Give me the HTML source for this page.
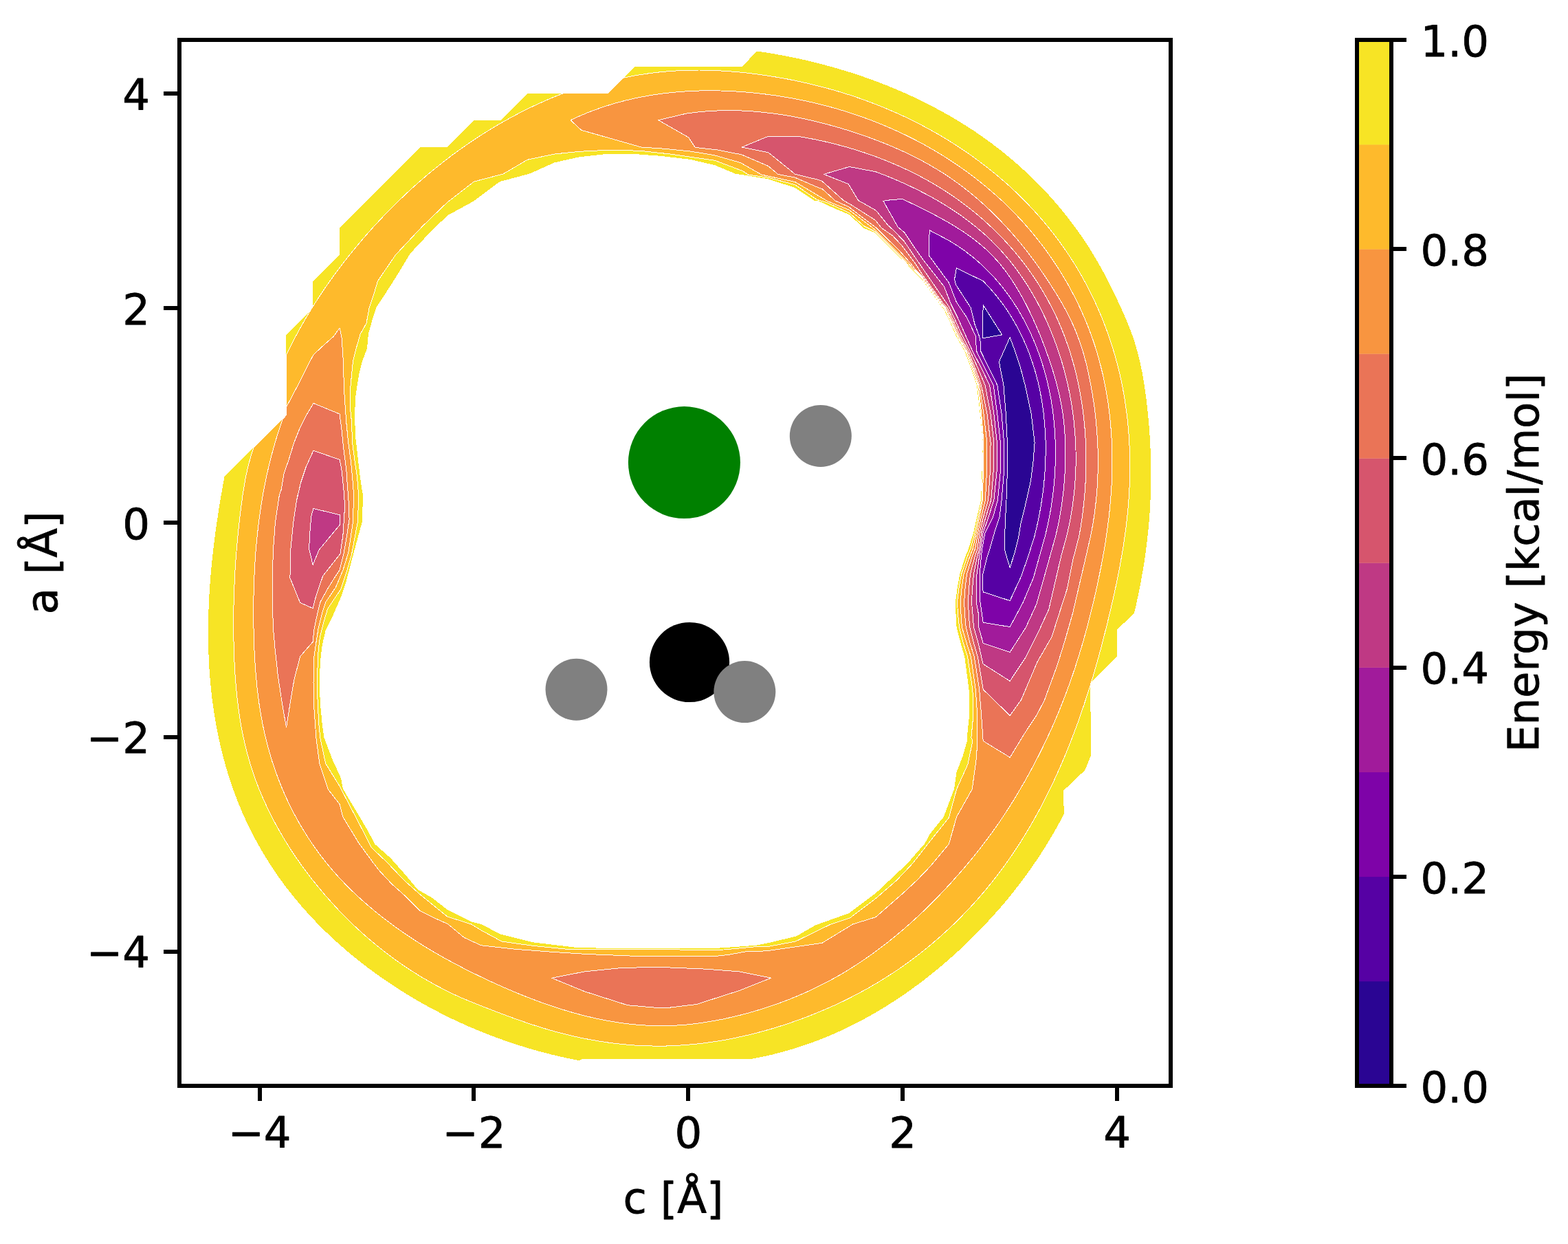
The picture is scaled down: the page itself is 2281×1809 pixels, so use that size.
<!DOCTYPE html>
<html lang="en">
<head>
<meta charset="utf-8">
<title>Energy contour plot</title>
<style>
html,body{margin:0;padding:0;background:#fff;}
body{width:2281px;height:1809px;overflow:hidden;}
svg{display:block;}
text{font-family:"DejaVu Sans","Liberation Sans",sans-serif;font-size:62.5px;fill:#000;stroke:#000;stroke-width:0.8px;stroke-linejoin:round;}
</style>
</head>
<body>
<svg xmlns="http://www.w3.org/2000/svg" width="2281" height="1809" viewBox="0 0 2281 1809">
<rect x="0" y="0" width="2281" height="1809" fill="#ffffff"/>
<g id="contours" fill-rule="evenodd" stroke="#ffffff" stroke-width="1" stroke-linejoin="round" shape-rendering="crispEdges">
<path d="M326.5,693.2 L416.4,603.7 L416.4,486.8 L455.4,447.8 L455.4,408.8 L494.4,369.8 L494.4,330.8 L611.4,213.8 L650.4,213.8 L689.4,174.9 L728.4,174.9 L767.4,135.9 L884.3,135.9 L923.3,96.9 L1079.3,96.9 L1101.3,74.5 L1115.2,76.6 L1129.0,78.9 L1142.8,81.5 L1156.6,84.2 L1170.4,87.2 L1184.2,90.5 L1197.9,94.0 L1211.5,97.7 L1225.1,101.7 L1238.7,105.8 L1252.2,110.3 L1265.5,115.0 L1278.8,119.9 L1292.1,125.1 L1305.2,130.5 L1318.2,136.2 L1331.0,142.1 L1343.8,148.3 L1356.4,154.7 L1368.9,161.4 L1381.2,168.3 L1393.4,175.5 L1405.4,182.9 L1417.2,190.6 L1428.8,198.6 L1440.3,206.8 L1451.5,215.3 L1462.6,224.1 L1473.4,233.1 L1484.0,242.4 L1494.4,251.9 L1504.6,261.7 L1514.5,271.7 L1524.2,282.0 L1533.6,292.5 L1542.7,303.2 L1551.6,314.2 L1560.2,325.4 L1568.6,336.8 L1576.6,348.4 L1584.4,360.3 L1591.8,372.3 L1599.0,384.6 L1605.8,397.0 L1612.4,409.6 L1618.8,422.2 L1624.9,435.0 L1630.8,447.8 L1636.5,460.6 L1641.9,473.5 L1646.9,486.6 L1651.3,499.8 L1655.1,513.3 L1658.5,527.0 L1661.4,540.9 L1663.9,554.8 L1666.0,568.8 L1667.9,582.9 L1669.4,597.0 L1670.8,611.1 L1672.0,625.2 L1672.9,639.2 L1673.6,653.3 L1674.1,667.4 L1674.4,681.4 L1674.4,695.5 L1674.2,709.6 L1673.7,723.7 L1673.0,737.8 L1672.1,751.9 L1670.9,766.1 L1669.4,780.1 L1667.8,794.2 L1665.9,808.3 L1663.8,822.3 L1661.4,836.2 L1658.9,850.1 L1656.1,863.9 L1653.2,877.7 L1650.0,891.4 L1625.1,915.7 L1625.1,954.7 L1586.2,993.6 L1587.0,1098.9 L1578.2,1120.1 L1547.2,1149.6 L1547.7,1184.0 L1541.0,1196.6 L1534.1,1209.0 L1526.9,1221.2 L1519.5,1233.3 L1511.8,1245.2 L1503.9,1256.9 L1495.8,1268.5 L1487.4,1279.9 L1478.8,1291.1 L1470.1,1302.2 L1461.1,1313.1 L1451.8,1323.8 L1442.4,1334.3 L1432.8,1344.7 L1423.0,1354.9 L1413.0,1364.9 L1402.8,1374.8 L1392.4,1384.5 L1381.9,1393.9 L1371.1,1403.2 L1360.2,1412.3 L1349.2,1421.2 L1337.9,1429.8 L1326.5,1438.2 L1314.9,1446.4 L1303.1,1454.3 L1291.2,1461.9 L1279.1,1469.3 L1266.9,1476.4 L1254.5,1483.2 L1242.0,1489.7 L1229.3,1496.0 L1216.5,1501.8 L1203.5,1507.4 L1190.4,1512.6 L1177.1,1517.5 L1163.7,1522.1 L1150.2,1526.3 L1136.6,1530.2 L1122.8,1533.7 L1108.9,1536.8 L1095.0,1539.6 L846.5,1539.9 L843.3,1542.4 L829.5,1539.6 L815.7,1536.6 L802.0,1533.4 L788.3,1529.9 L774.7,1526.1 L761.2,1522.0 L747.7,1517.8 L734.3,1513.2 L721.0,1508.4 L707.8,1503.4 L694.7,1498.1 L681.7,1492.6 L668.8,1486.8 L656.0,1480.8 L643.3,1474.5 L630.8,1468.0 L618.3,1461.3 L606.1,1454.3 L593.9,1447.1 L581.9,1439.6 L570.1,1431.9 L558.4,1424.0 L546.8,1415.9 L535.5,1407.5 L524.3,1398.9 L513.3,1390.1 L502.5,1381.0 L491.9,1371.7 L481.5,1362.2 L471.3,1352.5 L461.4,1342.5 L451.7,1332.3 L442.2,1321.8 L433.0,1311.1 L424.1,1300.2 L415.4,1289.1 L407.0,1277.7 L399.0,1266.0 L391.2,1254.2 L383.7,1242.1 L376.6,1229.8 L369.8,1217.4 L363.3,1204.8 L357.2,1192.0 L351.4,1179.1 L346.1,1166.1 L341.0,1152.9 L336.3,1139.6 L332.0,1126.3 L328.0,1112.8 L324.3,1099.2 L320.9,1085.6 L317.9,1071.8 L315.1,1058.0 L312.7,1044.2 L310.5,1030.2 L308.6,1016.3 L307.0,1002.2 L305.7,988.2 L304.6,974.1 L303.8,960.0 L303.3,945.8 L302.9,931.7 L302.9,917.6 L303.0,903.4 L303.4,889.3 L303.9,875.2 L304.7,861.0 L305.7,846.9 L306.8,832.8 L308.1,818.7 L309.6,804.7 L311.3,790.6 L313.0,776.6 L315.0,762.6 L317.1,748.6 L319.2,734.7 L321.6,720.8 L324.0,707.0Z M526.8,759.0 L528.1,720.0 L527.1,715.6 L523.2,688.3 L520.3,663.0 L517.4,637.7 L515.8,604.5 L517.4,575.3 L519.4,561.7 L522.3,544.2 L527.1,524.7 L534.0,507.1 L535.9,485.7 L541.8,464.3 L547.6,446.8 L566.1,418.5 L577.8,400.0 L596.8,368.6 L623.1,340.5 L650.7,313.5 L688.3,292.9 L727.1,264.1 L770.9,252.4 L806.0,236.6 L820.0,233.3 L842.6,228.3 L880.2,224.1 L917.8,223.6 L961.8,226.9 L1003.5,231.8 L1039.7,240.1 L1069.7,252.6 L1117.7,260.3 L1156.7,273.2 L1184.5,291.6 L1190.0,291.9 L1215.1,303.6 L1235.2,311.9 L1256.9,332.0 L1273.6,338.7 L1290.4,355.4 L1307.1,372.2 L1318.0,382.9 L1332.3,397.6 L1342.0,407.3 L1371.2,447.7 L1373.4,450.1 L1382.3,469.0 L1391.2,489.1 L1403.4,511.0 L1412.5,535.0 L1420.9,560.0 L1425.8,602.0 L1429.9,643.5 L1428.5,685.0 L1427.1,727.0 L1421.2,752.0 L1416.0,775.0 L1409.0,798.0 L1404.0,810.0 L1396.3,835.0 L1392.5,856.0 L1390.0,875.5 L1390.5,893.0 L1391.6,912.0 L1397.4,935.0 L1403.2,955.0 L1409.5,1002.5 L1410.1,1040.0 L1406.7,1072.6 L1406.8,1077.5 L1400.4,1100.1 L1391.6,1122.7 L1387.9,1147.7 L1372.9,1187.8 L1352.8,1212.8 L1345.3,1226.6 L1320.3,1255.4 L1274.0,1298.8 L1235.0,1328.0 L1186.3,1345.4 L1158.5,1361.4 L1120.9,1370.5 L1100.0,1374.7 L1074.8,1376.6 L1040.0,1379.0 L1000.6,1379.3 L900.4,1379.3 L837.8,1377.8 L775.1,1370.3 L727.6,1358.3 L700.0,1344.0 L685.8,1340.4 L650.7,1322.8 L628.1,1305.3 L608.1,1294.0 L588.1,1270.2 L568.0,1247.7 L545.5,1227.7 L534.2,1206.4 L498.9,1147.1 L496.0,1131.6 L484.3,1106.2 L471.6,1073.1 L468.7,1052.9 L465.8,1022.0 L464.8,992.7 L465.8,963.5 L468.7,938.2 L473.6,916.8 L484.3,895.3 L496.0,868.1 L503.8,844.7 L513.5,807.7Z" fill="#f7e425" stroke="none"/>
<path d="M416.1,516.9 L422.3,504.2 L428.8,491.6 L435.5,479.2 L442.5,466.9 L449.7,454.7 L457.1,442.7 L464.8,430.8 L472.7,419.1 L480.8,407.4 L489.1,396.0 L497.6,384.6 L506.4,373.4 L515.3,362.4 L524.4,351.5 L533.7,340.7 L543.2,330.1 L552.8,319.7 L562.6,309.4 L572.6,299.3 L582.8,289.4 L593.1,279.6 L603.6,270.0 L614.3,260.6 L625.1,251.4 L636.1,242.5 L647.2,233.7 L658.5,225.1 L670.0,216.8 L681.6,208.7 L693.3,200.8 L705.3,193.1 L717.3,185.7 L729.5,178.6 L741.9,171.7 L754.3,165.0 L767.0,158.6 L779.7,152.5 L792.6,146.7 L805.7,141.1 L818.8,135.9 L883.9,135.9 L906.5,113.3 L920.3,110.5 L934.2,108.2 L948.1,106.2 L962.1,104.6 L976.0,103.4 L989.9,102.6 L1003.9,102.1 L1017.8,102.0 L1031.8,102.3 L1045.7,102.8 L1059.7,103.7 L1073.6,104.8 L1087.5,106.2 L1101.4,107.9 L1115.2,109.9 L1129.1,112.1 L1142.9,114.5 L1156.6,117.2 L1170.3,120.2 L1183.9,123.4 L1197.5,126.8 L1211.0,130.5 L1224.5,134.5 L1237.8,138.7 L1251.1,143.2 L1264.3,148.0 L1277.4,153.0 L1290.3,158.3 L1303.2,163.9 L1316.0,169.7 L1328.6,175.8 L1341.1,182.2 L1353.4,188.8 L1365.6,195.7 L1377.7,202.9 L1389.5,210.4 L1401.3,218.1 L1412.8,226.0 L1424.1,234.3 L1435.2,242.8 L1446.2,251.5 L1456.9,260.5 L1467.4,269.7 L1477.6,279.2 L1487.6,289.0 L1497.3,299.0 L1506.8,309.2 L1516.1,319.7 L1525.0,330.4 L1533.7,341.3 L1542.0,352.5 L1550.1,363.9 L1557.8,375.5 L1565.3,387.4 L1572.4,399.4 L1579.2,411.7 L1585.6,424.1 L1591.8,436.7 L1597.6,449.5 L1603.1,462.4 L1608.2,475.5 L1613.0,488.7 L1617.4,502.0 L1621.5,515.4 L1625.2,529.0 L1628.6,542.6 L1631.7,556.3 L1634.3,570.0 L1636.6,583.8 L1638.6,597.7 L1640.3,611.6 L1641.6,625.5 L1642.6,639.5 L1643.3,653.5 L1643.7,667.5 L1643.8,681.5 L1643.5,695.5 L1643.0,709.4 L1642.2,723.3 L1641.2,737.2 L1639.8,751.1 L1638.3,764.9 L1636.4,778.7 L1634.4,792.5 L1632.1,806.3 L1629.7,820.0 L1627.1,833.7 L1624.3,847.4 L1621.4,861.1 L1618.3,874.7 L1615.2,888.4 L1611.9,902.0 L1608.5,915.7 L1605.0,929.3 L1601.5,942.9 L1597.8,956.5 L1593.9,970.0 L1590.0,983.6 L1585.9,997.0 L1581.6,1010.5 L1577.3,1023.8 L1572.7,1037.1 L1568.1,1050.4 L1563.2,1063.6 L1558.2,1076.7 L1553.1,1089.7 L1547.7,1102.6 L1542.2,1115.5 L1536.5,1128.2 L1530.6,1140.9 L1524.5,1153.4 L1518.2,1165.9 L1511.7,1178.2 L1504.9,1190.4 L1498.0,1202.5 L1490.8,1214.4 L1483.5,1226.2 L1475.8,1237.8 L1468.0,1249.3 L1459.9,1260.7 L1451.5,1271.9 L1442.9,1282.9 L1434.1,1293.7 L1425.0,1304.4 L1415.6,1314.9 L1406.0,1325.2 L1396.2,1335.2 L1386.2,1345.1 L1375.9,1354.7 L1365.4,1364.1 L1354.7,1373.3 L1343.8,1382.2 L1332.8,1390.9 L1321.5,1399.2 L1310.1,1407.4 L1298.5,1415.2 L1286.7,1422.7 L1274.8,1430.0 L1262.7,1437.0 L1250.5,1443.7 L1238.1,1450.2 L1225.6,1456.4 L1213.0,1462.3 L1200.2,1467.9 L1187.3,1473.3 L1174.3,1478.5 L1161.2,1483.3 L1148.0,1488.0 L1134.7,1492.3 L1121.2,1496.4 L1107.7,1500.2 L1094.2,1503.7 L1080.5,1506.9 L1066.8,1509.9 L1053.0,1512.5 L1039.2,1514.7 L1025.3,1516.7 L1011.4,1518.3 L997.5,1519.5 L983.5,1520.4 L969.5,1521.0 L955.5,1521.1 L941.6,1520.9 L927.6,1520.3 L913.6,1519.3 L899.7,1517.9 L885.8,1516.2 L871.9,1514.1 L858.1,1511.7 L844.3,1509.0 L830.7,1506.0 L817.1,1502.6 L803.6,1499.0 L790.1,1495.0 L776.8,1490.8 L763.6,1486.4 L750.4,1481.8 L737.3,1477.0 L724.2,1472.1 L711.1,1467.0 L698.1,1462.0 L685.1,1456.8 L672.2,1451.4 L659.5,1445.6 L647.0,1439.4 L634.6,1433.0 L622.4,1426.2 L610.4,1419.1 L598.6,1411.7 L587.0,1404.0 L575.6,1396.0 L564.3,1387.7 L553.3,1379.1 L542.5,1370.3 L531.8,1361.2 L521.4,1351.8 L511.2,1342.2 L501.3,1332.3 L491.5,1322.2 L482.0,1311.9 L472.7,1301.4 L463.6,1290.6 L454.8,1279.7 L446.2,1268.5 L437.9,1257.2 L429.8,1245.6 L422.0,1233.9 L414.6,1222.0 L407.4,1209.9 L400.6,1197.7 L394.1,1185.3 L388.0,1172.7 L382.2,1160.0 L376.8,1147.1 L371.8,1134.1 L367.2,1121.0 L363.1,1107.7 L359.3,1094.3 L356.0,1080.7 L353.0,1067.1 L350.4,1053.4 L348.2,1039.5 L346.3,1025.7 L344.6,1011.7 L343.3,997.7 L342.2,983.7 L341.3,969.7 L340.7,955.6 L340.2,941.6 L339.9,927.5 L339.8,913.5 L339.8,899.5 L339.9,885.5 L340.2,871.6 L340.7,857.6 L341.3,843.6 L342.0,829.7 L342.9,815.8 L344.0,801.8 L345.2,787.9 L346.5,774.0 L348.0,760.1 L349.6,746.2 L351.4,732.3 L353.3,718.4 L355.5,704.5 L358.1,690.7 L361.2,677.1 L364.9,663.6 L369.4,650.3 L416.4,603.7Z M520.3,759.0 L521.9,720.0 L521.3,715.6 L519.4,692.2 L516.4,672.7 L512.5,643.5 L511.6,614.3 L509.6,594.8 L509.6,565.6 L511.6,544.2 L513.5,524.7 L517.4,509.1 L524.2,485.7 L533.0,470.1 L536.9,448.7 L542.7,431.2 L549.5,408.8 L555.4,400.0 L575.5,370.6 L614.4,329.2 L650.7,294.2 L689.5,264.1 L732.1,252.9 L767.2,232.3 L806.0,224.1 L842.6,220.3 L882.7,218.3 L917.8,218.8 L936.7,219.9 L975.7,224.1 L1039.7,233.2 L1080.1,248.5 L1088.4,254.0 L1117.7,258.2 L1156.7,268.7 L1188.7,290.5 L1202.5,294.4 L1235.2,309.4 L1256.9,328.7 L1273.6,337.0 L1307.1,370.5 L1319.2,382.9 L1332.3,396.2 L1342.0,405.9 L1371.2,446.3 L1374.2,449.3 L1383.2,468.2 L1392.1,488.3 L1404.6,511.0 L1413.7,535.0 L1422.2,560.0 L1426.7,602.0 L1430.4,643.5 L1429.3,685.0 L1428.3,727.0 L1423.0,752.0 L1418.0,775.0 L1412.0,798.0 L1407.0,810.0 L1398.5,835.0 L1394.8,856.0 L1392.5,875.5 L1393.5,893.0 L1395.5,912.0 L1401.3,935.0 L1407.5,955.0 L1414.9,1002.5 L1415.9,1040.0 L1412.9,1072.6 L1414.9,1077.5 L1407.9,1111.4 L1391.6,1147.7 L1380.4,1189.0 L1355.3,1220.3 L1327.8,1255.4 L1304.6,1280.0 L1274.0,1306.5 L1236.4,1335.0 L1207.2,1344.7 L1157.1,1369.1 L1119.5,1376.1 L1099.9,1376.6 L1074.8,1379.0 L1047.0,1381.5 L965.5,1380.8 L900.4,1380.8 L825.2,1380.3 L775.1,1375.3 L730.1,1369.1 L700.0,1352.8 L685.8,1344.1 L650.7,1332.9 L610.6,1300.3 L588.1,1280.3 L563.0,1254.0 L540.5,1232.7 L534.2,1220.1 L494.0,1143.2 L473.6,1110.1 L465.8,1073.1 L463.8,1052.9 L462.9,1035.6 L461.3,1002.5 L461.9,973.2 L463.2,944.0 L465.8,924.5 L470.7,905.1 L476.5,885.6 L484.3,873.9 L496.0,856.4 L503.8,833.0 L511.6,805.7Z" fill="#feba2c"/>
<path d="M830.1,174.7 L843.0,168.8 L856.1,163.3 L869.3,158.4 L882.6,153.9 L896.1,149.8 L909.6,146.2 L923.2,143.0 L936.9,140.3 L950.7,137.9 L964.5,135.9 L978.4,134.4 L992.3,133.2 L1006.3,132.4 L1020.3,131.9 L1034.3,131.8 L1048.4,132.0 L1062.4,132.5 L1076.4,133.3 L1090.4,134.4 L1104.4,135.9 L1118.4,137.6 L1132.3,139.5 L1146.2,141.8 L1160.0,144.4 L1173.8,147.2 L1187.5,150.3 L1201.1,153.7 L1214.6,157.4 L1228.1,161.4 L1241.5,165.7 L1254.7,170.2 L1267.9,175.1 L1280.9,180.2 L1293.9,185.7 L1306.7,191.4 L1319.4,197.4 L1331.9,203.7 L1344.2,210.3 L1356.4,217.2 L1368.5,224.4 L1380.3,231.8 L1392.0,239.6 L1403.5,247.6 L1414.7,255.9 L1425.8,264.5 L1436.6,273.4 L1447.2,282.5 L1457.6,291.9 L1467.7,301.6 L1477.5,311.6 L1487.1,321.8 L1496.4,332.3 L1505.4,343.1 L1514.1,354.1 L1522.6,365.4 L1530.7,376.9 L1538.5,388.6 L1545.9,400.6 L1553.1,412.7 L1559.8,425.1 L1566.3,437.6 L1572.3,450.3 L1578.0,463.2 L1583.3,476.2 L1588.2,489.3 L1592.7,502.5 L1596.8,515.9 L1600.5,529.4 L1603.9,543.0 L1606.8,556.6 L1609.4,570.4 L1611.7,584.2 L1613.6,598.1 L1615.1,612.0 L1616.3,625.9 L1617.2,639.9 L1617.7,653.9 L1618.0,668.0 L1617.9,682.0 L1617.5,696.1 L1616.8,710.1 L1615.8,724.1 L1614.6,738.1 L1613.1,752.0 L1611.3,766.0 L1609.4,779.9 L1607.2,793.8 L1604.8,807.6 L1602.2,821.5 L1599.5,835.2 L1596.6,849.0 L1593.6,862.7 L1590.4,876.4 L1587.1,890.0 L1583.7,903.6 L1580.1,917.1 L1576.3,930.6 L1572.4,944.0 L1568.2,957.4 L1564.0,970.7 L1559.5,984.0 L1554.8,997.2 L1550.0,1010.3 L1544.9,1023.3 L1539.7,1036.3 L1534.2,1049.2 L1528.5,1062.1 L1522.6,1074.8 L1516.5,1087.5 L1510.2,1100.1 L1503.7,1112.6 L1497.0,1125.0 L1490.1,1137.3 L1483.0,1149.4 L1475.8,1161.5 L1468.4,1173.4 L1460.8,1185.1 L1453.0,1196.7 L1445.0,1208.1 L1436.8,1219.3 L1428.4,1230.4 L1419.7,1241.4 L1410.9,1252.2 L1401.9,1262.9 L1392.7,1273.4 L1383.4,1283.9 L1373.8,1294.2 L1364.1,1304.4 L1354.2,1314.4 L1344.1,1324.3 L1333.8,1334.0 L1323.4,1343.4 L1312.8,1352.7 L1302.0,1361.7 L1291.0,1370.6 L1279.9,1379.1 L1268.6,1387.4 L1257.1,1395.5 L1245.4,1403.2 L1233.6,1410.7 L1221.6,1417.9 L1209.4,1424.7 L1197.0,1431.2 L1184.5,1437.4 L1171.8,1443.3 L1159.0,1448.8 L1146.0,1454.1 L1132.9,1459.0 L1119.6,1463.6 L1106.3,1467.9 L1092.8,1471.9 L1079.2,1475.6 L1065.5,1478.9 L1051.7,1482.0 L1037.8,1484.6 L1023.9,1486.9 L1009.9,1488.8 L995.9,1490.3 L981.9,1491.2 L967.9,1491.7 L953.9,1491.6 L940.0,1491.1 L926.1,1490.1 L912.2,1488.7 L898.4,1486.8 L884.6,1484.5 L870.9,1481.8 L857.2,1478.7 L843.6,1475.3 L830.0,1471.6 L816.6,1467.5 L803.2,1463.2 L789.8,1458.6 L776.6,1453.7 L763.4,1448.6 L750.4,1443.3 L737.4,1437.8 L724.6,1432.1 L711.8,1426.3 L699.2,1420.3 L686.7,1414.2 L674.3,1408.0 L662.0,1401.5 L649.7,1394.9 L637.6,1388.1 L625.6,1381.1 L613.6,1373.8 L601.7,1366.2 L590.0,1358.4 L578.4,1350.3 L567.0,1342.0 L555.7,1333.4 L544.7,1324.5 L533.9,1315.4 L523.3,1306.0 L513.0,1296.3 L503.0,1286.4 L493.3,1276.2 L484.0,1265.7 L474.9,1254.9 L466.3,1243.9 L458.0,1232.5 L450.1,1221.0 L442.6,1209.1 L435.4,1197.1 L428.6,1184.8 L422.2,1172.3 L416.2,1159.7 L410.6,1146.9 L405.4,1133.9 L400.5,1120.7 L396.0,1107.4 L392.0,1094.0 L388.3,1080.5 L385.0,1066.9 L382.1,1053.2 L379.5,1039.5 L377.3,1025.6 L375.4,1011.7 L373.8,997.8 L372.5,983.8 L371.4,969.8 L370.5,955.7 L369.8,941.7 L369.4,927.6 L369.0,913.5 L368.9,899.4 L368.8,885.4 L368.9,871.3 L369.2,857.2 L369.7,843.2 L370.3,829.2 L371.1,815.2 L372.1,801.2 L373.3,787.3 L374.8,773.3 L376.4,759.4 L378.3,745.6 L380.4,731.8 L382.7,718.0 L385.3,704.2 L388.2,690.5 L391.3,676.9 L394.7,663.3 L398.4,649.7 L402.4,636.2 L406.7,622.8 L411.2,609.4 L416.4,603.7 L416.1,592.9 L435.6,555.8 L449.2,528.6 L456.0,515.9 L471.6,501.3 L485.3,489.2 L494.0,476.9 L496.9,489.6 L498.9,516.9 L500.8,571.4 L503.8,614.3 L506.7,643.5 L510.6,672.7 L513.5,703.9 L514.5,720.0 L513.5,759.0 L506.7,803.8 L498.9,829.1 L488.2,854.4 L473.6,875.8 L468.7,891.4 L462.9,914.8 L459.9,934.3 L457.0,953.8 L456.0,992.7 L457.0,1031.7 L459.9,1073.1 L464.8,1110.1 L477.5,1148.1 L494.0,1169.5 L498.9,1188.1 L509.6,1205.6 L521.3,1225.1 L542.7,1254.3 L552.5,1266.9 L570.0,1285.5 L589.5,1303.0 L610.9,1324.4 L630.4,1334.2 L651.8,1343.9 L675.2,1363.4 L700.0,1374.8 L750.1,1380.3 L800.2,1384.1 L850.3,1387.3 L925.4,1390.4 L965.5,1390.9 L1040.0,1390.5 L1059.5,1388.4 L1085.9,1383.6 L1100.0,1383.7 L1119.5,1382.3 L1196.1,1371.2 L1240.6,1344.0 L1274.0,1333.6 L1313.0,1299.5 L1333.9,1280.0 L1352.8,1260.4 L1380.4,1227.3 L1391.6,1187.8 L1414.2,1147.7 L1420.4,1102.6 L1421.8,1077.5 L1421.8,1040.0 L1419.2,1002.5 L1412.4,955.0 L1406.2,935.0 L1399.4,912.0 L1398.0,893.0 L1397.1,875.5 L1399.0,856.0 L1402.0,835.0 L1410.5,810.0 L1415.2,798.0 L1420.2,775.0 L1424.8,752.0 L1429.6,727.0 L1430.3,685.0 L1431.0,643.5 L1427.7,602.0 L1423.5,560.0 L1415.0,535.0 L1405.8,511.0 L1393.0,487.5 L1384.0,467.5 L1375.1,448.5 L1371.2,444.9 L1342.0,404.5 L1332.3,394.8 L1321.7,382.9 L1307.1,368.0 L1273.6,334.5 L1248.5,315.3 L1235.2,305.2 L1204.2,292.7 L1156.7,264.5 L1107.9,254.0 L1077.3,236.6 L1038.3,225.5 L1003.5,219.9 L965.9,216.2 L932.8,214.0 L845.6,189.2Z" fill="#f89540"/>
<path d="M957.8,174.7 L997.9,165.2 L1012.0,163.3 L1026.0,162.0 L1040.1,161.1 L1054.1,160.7 L1068.2,160.7 L1082.2,161.1 L1096.2,162.0 L1110.2,163.3 L1124.1,164.9 L1138.0,166.9 L1151.9,169.2 L1165.7,171.9 L1179.5,174.9 L1193.2,178.2 L1206.8,181.8 L1220.4,185.6 L1233.9,189.7 L1247.4,194.1 L1260.7,198.6 L1273.9,203.5 L1287.1,208.6 L1300.0,214.0 L1312.9,219.7 L1325.6,225.7 L1338.0,232.0 L1350.3,238.7 L1362.4,245.8 L1374.3,253.2 L1385.9,261.1 L1397.3,269.3 L1408.4,277.9 L1419.3,286.9 L1429.9,296.2 L1440.2,305.8 L1450.3,315.7 L1460.1,325.9 L1469.6,336.3 L1478.9,347.0 L1487.9,357.8 L1496.6,368.9 L1505.0,380.1 L1513.2,391.6 L1521.1,403.1 L1528.8,414.9 L1536.3,426.8 L1543.6,438.8 L1550.5,451.1 L1556.9,463.6 L1562.7,476.3 L1567.9,489.3 L1572.6,502.4 L1576.7,515.8 L1580.3,529.3 L1583.4,542.9 L1586.2,556.6 L1588.7,570.4 L1590.9,584.3 L1592.8,598.2 L1594.3,612.1 L1595.6,626.1 L1596.5,640.1 L1597.1,654.1 L1597.3,668.1 L1597.2,682.2 L1596.8,696.2 L1596.0,710.2 L1594.8,724.2 L1593.3,738.2 L1591.4,752.2 L1589.1,766.1 L1586.4,780.0 L1580.1,807.8 L1570.3,849.6 L1560.6,891.4 L1549.5,930.3 L1538.3,966.5 L1519.5,1017.9 L1508.1,1040.0 L1490.6,1066.3 L1469.2,1101.4 L1430.2,1077.5 L1427.6,1040.0 L1424.7,1002.5 L1417.3,955.0 L1411.0,935.0 L1405.2,912.0 L1403.5,893.0 L1402.6,875.5 L1404.0,856.0 L1406.5,835.0 L1414.0,810.0 L1418.6,798.0 L1422.6,775.0 L1427.5,752.0 L1433.4,727.0 L1435.5,685.0 L1435.9,643.5 L1431.0,602.0 L1425.0,560.0 L1416.5,535.0 L1407.2,511.0 L1394.1,486.6 L1385.2,466.6 L1376.3,447.6 L1371.2,442.8 L1342.0,402.4 L1332.3,392.7 L1324.7,382.9 L1307.1,363.0 L1282.0,338.7 L1273.6,330.3 L1253.6,315.3 L1235.2,301.1 L1215.1,291.9 L1196.7,275.1 L1190.0,272.6 L1156.7,258.2 L1131.6,253.3 L1117.7,241.5 L1078.7,224.8 L1042.5,217.8 L1011.2,214.4 L1001.7,199.8Z M456.0,586.4 L445.3,604.5 L435.6,624.0 L427.8,643.5 L420.0,668.8 L413.2,688.3 L409.3,711.7 L406.4,720.0 L400.5,759.0 L397.6,797.9 L396.2,836.9 L396.2,875.8 L397.6,914.8 L400.1,944.0 L404.4,983.0 L410.3,1022.0 L416.5,1057.9 L421.9,1023.9 L427.8,988.8 L436.6,954.7 L455.1,933.3 L457.0,914.8 L461.9,891.4 L465.8,875.8 L476.5,856.4 L486.2,840.8 L494.0,829.1 L499.9,805.7 L504.7,778.4 L508.1,755.1 L506.7,720.0 L505.7,711.7 L503.8,682.5 L499.9,653.2 L496.9,624.0 L494.0,602.0Z M802.7,1422.2 L850.3,1412.9 L900.4,1407.9 L937.9,1406.6 L965.5,1406.6 L1025.6,1409.1 L1075.7,1412.9 L1121.5,1422.2 L1075.7,1440.4 L1013.1,1460.5 L975.5,1465.0 L950.5,1465.0 L912.9,1461.7 L850.3,1441.7Z" fill="#ea7457"/>
<path d="M1079.3,214.0 L1116.9,198.5 L1161.3,198.3 L1174.9,200.7 L1188.6,203.4 L1202.3,206.4 L1216.0,209.8 L1229.6,213.4 L1243.1,217.4 L1256.6,221.7 L1269.9,226.3 L1283.2,231.3 L1296.3,236.6 L1309.3,242.2 L1322.2,248.2 L1334.9,254.5 L1347.3,261.2 L1359.6,268.2 L1371.7,275.6 L1383.5,283.3 L1395.1,291.4 L1406.4,299.8 L1417.5,308.6 L1428.3,317.7 L1438.7,327.1 L1448.9,336.8 L1458.8,346.9 L1468.3,357.2 L1477.5,367.8 L1486.3,378.7 L1494.8,389.9 L1502.9,401.4 L1510.6,413.0 L1517.9,425.0 L1524.8,437.2 L1531.3,449.6 L1537.4,462.2 L1543.0,475.0 L1548.2,488.0 L1553.0,501.2 L1557.4,514.6 L1561.4,528.1 L1565.0,541.7 L1568.1,555.5 L1570.9,569.4 L1573.3,583.3 L1575.3,597.4 L1577.0,611.5 L1578.3,625.6 L1579.2,639.8 L1579.8,654.0 L1580.0,668.2 L1579.8,682.3 L1579.4,696.5 L1578.5,710.6 L1577.4,724.6 L1575.9,738.6 L1574.2,752.5 L1572.1,766.3 L1569.7,780.0 L1560.6,814.8 L1552.3,856.6 L1541.1,891.4 L1530.0,926.2 L1509.1,962.4 L1485.4,1017.9 L1469.2,1040.5 L1430.2,1002.6 L1422.3,955.0 L1416.5,935.0 L1410.7,912.0 L1409.3,893.0 L1408.4,875.5 L1409.5,856.0 L1411.5,835.0 L1418.0,810.0 L1422.0,798.0 L1425.0,775.0 L1430.6,752.0 L1437.6,727.0 L1440.4,685.0 L1441.1,643.5 L1436.0,602.0 L1427.5,560.0 L1418.5,535.0 L1409.0,511.0 L1395.6,485.5 L1386.7,465.5 L1377.8,446.5 L1371.2,440.0 L1342.0,399.7 L1331.4,382.9 L1311.3,356.3 L1298.7,342.9 L1282.0,331.2 L1273.6,320.3 L1236.8,296.9 L1227.6,291.9 L1195.9,263.4 L1190.0,261.3 L1156.7,253.3 L1117.7,221.7Z M456.0,655.2 L445.3,678.6 L437.5,702.0 L431.7,727.3 L432.7,720.0 L426.8,759.0 L422.9,797.9 L421.9,840.4 L436.6,876.4 L455.1,884.6 L459.9,866.1 L469.7,837.5 L495.0,805.3 L498.9,778.4 L501.4,739.5 L500.8,720.0 L499.9,711.7 L496.9,682.5 L494.0,668.4Z" fill="#d6556d"/>
<path d="M1198.4,253.4 L1235.7,242.5 L1274.0,249.8 L1287.1,254.8 L1300.1,260.1 L1313.0,265.7 L1325.8,271.6 L1338.5,277.9 L1351.0,284.4 L1363.4,291.3 L1375.5,298.6 L1387.4,306.2 L1399.0,314.1 L1410.3,322.5 L1421.2,331.2 L1431.9,340.3 L1442.1,349.8 L1451.9,359.7 L1461.2,370.1 L1470.2,380.7 L1478.7,391.8 L1486.8,403.2 L1494.5,414.8 L1501.8,426.8 L1508.7,439.0 L1515.2,451.5 L1521.3,464.2 L1526.9,477.0 L1532.2,490.1 L1537.1,503.3 L1541.6,516.6 L1545.8,530.1 L1549.5,543.6 L1552.8,557.3 L1555.8,571.1 L1558.3,584.9 L1560.5,598.8 L1562.2,612.8 L1563.5,626.8 L1564.5,640.8 L1565.0,654.8 L1565.2,668.9 L1564.9,682.9 L1564.2,697.0 L1563.1,710.9 L1561.6,724.9 L1559.7,738.8 L1557.4,752.6 L1554.7,766.3 L1551.6,780.0 L1543.9,807.8 L1534.2,849.6 L1525.8,885.8 L1510.5,919.2 L1492.4,955.4 L1469.2,990.4 L1430.2,965.6 L1427.6,955.0 L1423.1,935.0 L1416.5,912.0 L1415.0,893.0 L1413.5,875.5 L1414.5,856.0 L1416.5,835.0 L1421.5,810.0 L1424.8,798.0 L1427.6,775.0 L1434.0,752.0 L1441.8,727.0 L1445.2,685.0 L1445.9,643.5 L1441.1,602.0 L1433.0,560.0 L1422.5,535.0 L1411.5,511.0 L1397.8,484.0 L1388.9,464.0 L1380.0,445.1 L1337.2,382.9 L1315.5,351.2 L1301.2,336.2 L1292.0,327.8 L1274.5,306.1 L1248.5,291.4 L1234.3,267.6Z M456.0,739.5 L494.6,748.8 L494.6,762.9 L464.2,799.5 L455.1,821.3 L449.6,797.9 L451.2,768.7 L453.1,749.2Z" fill="#bf3984"/>
<path d="M1284.9,292.3 L1296.2,290.6 L1307.1,289.9 L1313.8,289.9 L1340.6,302.7 L1352.9,309.0 L1365.3,315.5 L1377.7,322.4 L1389.8,329.6 L1401.7,337.2 L1413.2,345.2 L1424.2,353.8 L1434.8,362.9 L1444.7,372.7 L1454.0,383.0 L1462.6,393.9 L1470.7,405.3 L1478.2,417.0 L1485.3,429.2 L1492.0,441.6 L1498.3,454.2 L1504.2,466.9 L1509.9,479.8 L1515.2,492.7 L1520.2,505.8 L1524.9,518.9 L1529.4,532.1 L1533.5,545.3 L1537.2,558.6 L1540.5,572.0 L1543.4,585.6 L1545.7,599.2 L1547.6,613.0 L1548.8,626.9 L1549.6,640.9 L1549.9,654.9 L1549.9,669.0 L1549.4,683.0 L1548.5,697.1 L1547.3,711.1 L1545.7,725.0 L1543.7,738.9 L1541.4,752.7 L1538.7,766.4 L1535.5,780.0 L1525.8,814.8 L1516.1,849.6 L1507.7,878.8 L1492.4,912.3 L1469.2,948.4 L1430.2,935.3 L1423.7,912.0 L1423.5,893.0 L1420.1,875.5 L1420.2,856.0 L1421.0,835.0 L1424.5,810.0 L1426.6,798.0 L1430.0,775.0 L1438.0,752.0 L1445.9,727.0 L1450.1,685.0 L1450.4,643.5 L1445.9,602.0 L1439.5,560.0 L1427.5,535.0 L1415.0,511.0 L1402.3,482.4 L1393.4,462.3 L1383.9,443.4 L1373.4,416.7 L1343.1,378.0 L1327.2,355.4 L1315.5,337.9 L1306.3,330.3Z" fill="#a11b9b"/>
<path d="M1352.4,334.9 L1380.0,349.5 L1392.4,357.1 L1404.2,365.3 L1415.5,374.1 L1426.3,383.4 L1436.5,393.2 L1446.3,403.4 L1455.5,414.1 L1464.2,425.2 L1472.3,436.7 L1480.0,448.6 L1487.1,460.8 L1493.8,473.3 L1499.9,486.1 L1505.6,499.1 L1510.7,512.4 L1515.3,525.9 L1519.5,539.6 L1523.1,553.4 L1526.3,567.4 L1529.0,581.4 L1531.2,595.6 L1532.9,609.9 L1534.2,624.2 L1535.0,638.5 L1535.4,652.9 L1535.4,667.3 L1534.9,681.6 L1534.0,695.9 L1532.7,710.2 L1531.0,724.4 L1528.9,738.5 L1526.4,752.5 L1523.5,766.3 L1520.2,780.0 L1510.5,814.8 L1503.5,839.9 L1488.2,876.1 L1469.2,911.6 L1430.2,905.2 L1428.5,893.0 L1426.0,875.5 L1425.2,856.0 L1425.2,835.0 L1427.4,810.0 L1428.6,798.0 L1433.0,775.0 L1444.5,752.0 L1451.5,727.0 L1455.4,685.0 L1455.4,643.5 L1450.8,602.0 L1445.2,560.0 L1432.5,535.0 L1420.7,511.0 L1419.0,487.9 L1406.8,462.3 L1391.2,439.0 L1380.0,410.0 L1379.6,410.1 L1351.0,371.1 L1351.0,357.2Z" fill="#7e03a8"/>
<path d="M1391.4,389.9 L1430.1,408.6 L1440.1,419.2 L1449.4,430.1 L1458.2,441.3 L1466.3,452.9 L1473.7,464.9 L1480.6,477.1 L1486.9,489.6 L1492.7,502.4 L1497.8,515.4 L1502.4,528.6 L1506.5,542.1 L1510.1,555.7 L1513.1,569.4 L1515.6,583.3 L1517.7,597.3 L1519.2,611.4 L1520.3,625.6 L1521.0,639.8 L1521.2,654.0 L1520.9,668.3 L1520.3,682.5 L1519.2,696.7 L1517.8,710.9 L1515.9,724.9 L1513.7,738.9 L1511.1,752.7 L1508.2,766.4 L1504.9,780.0 L1495.2,810.6 L1485.4,838.5 L1469.2,873.5 L1430.2,860.9 L1429.8,856.0 L1429.8,835.0 L1436.0,810.0 L1440.0,798.0 L1446.5,775.0 L1454.0,752.0 L1457.1,727.0 L1460.6,685.0 L1460.6,643.5 L1457.1,602.0 L1450.8,560.0 L1438.5,535.0 L1426.8,511.0 L1426.8,500.2 L1424.6,489.1 L1417.9,471.2 L1412.3,447.9 L1412.3,447.7 L1390.7,414.3 L1388.6,405.9Z" fill="#5601a4"/>
<path d="M1430.1,443.4 L1429.6,491.8 L1457.7,486.8Z M1469.1,490.7 L1476.9,511.3 L1483.6,531.4 L1491.2,560.0 L1500.2,601.8 L1505.1,643.5 L1503.0,671.4 L1499.5,699.2 L1493.3,727.1 L1484.9,761.9 L1481.9,780.0 L1475.7,805.1 L1469.2,825.3 L1464.5,810.0 L1461.2,798.0 L1461.8,775.0 L1462.7,752.0 L1464.0,727.0 L1465.4,685.0 L1465.4,643.5 L1463.3,602.0 L1459.9,560.0 L1455.0,535.0 L1453.5,525.8Z" fill="#2a0593"/>
</g>
<g id="atoms">
<circle cx="995.4" cy="672.6" r="81.5" fill="#008000"/>
<circle cx="1193.8" cy="633.9" r="45.0" fill="#808080"/>
<circle cx="838.5" cy="1002.8" r="45.0" fill="#808080"/>
<circle cx="1003.0" cy="963.0" r="58.1" fill="#000000"/>
<circle cx="1083.3" cy="1006.1" r="45.0" fill="#808080"/>
</g>
<g id="axes" fill="#000" stroke="none" shape-rendering="crispEdges">
<rect x="375" y="1582" width="6" height="19"/>
<rect x="238" y="1381" width="20" height="6"/>
<rect x="686" y="1582" width="6" height="19"/>
<rect x="238" y="1069" width="20" height="6"/>
<rect x="998" y="1582" width="6" height="19"/>
<rect x="238" y="757" width="20" height="6"/>
<rect x="1310" y="1582" width="6" height="19"/>
<rect x="238" y="445" width="20" height="6"/>
<rect x="1622" y="1582" width="6" height="19"/>
<rect x="238" y="133" width="20" height="6"/>
<rect x="258" y="55" width="1448" height="6"/>
<rect x="258" y="1576" width="1448" height="6"/>
<rect x="258" y="55" width="6" height="1527"/>
<rect x="1700" y="55" width="6" height="1527"/>
</g>
<g id="ticklabels">
<text x="377.5" y="1668.8" text-anchor="middle">−4</text>
<text x="218.0" y="1407.3" text-anchor="end">−4</text>
<text x="689.4" y="1668.8" text-anchor="middle">−2</text>
<text x="218.0" y="1095.4" text-anchor="end">−2</text>
<text x="1001.3" y="1668.8" text-anchor="middle">0</text>
<text x="218.0" y="783.5" text-anchor="end">0</text>
<text x="1313.2" y="1668.8" text-anchor="middle">2</text>
<text x="218.0" y="471.6" text-anchor="end">2</text>
<text x="1625.1" y="1668.8" text-anchor="middle">4</text>
<text x="218.0" y="159.7" text-anchor="end">4</text>
</g>
<text id="xlabel" x="979.5" y="1764.0" text-anchor="middle">c [Å]</text>
<text id="ylabel" transform="translate(83.0,818.5) rotate(-90)" text-anchor="middle">a [Å]</text>
<g id="colorbar">
<rect x="1974.0" y="1426.90" width="50.0" height="152.40" fill="#2a0593"/>
<rect x="1974.0" y="1274.80" width="50.0" height="152.40" fill="#5601a4"/>
<rect x="1974.0" y="1122.70" width="50.0" height="152.40" fill="#7e03a8"/>
<rect x="1974.0" y="970.60" width="50.0" height="152.40" fill="#a11b9b"/>
<rect x="1974.0" y="818.50" width="50.0" height="152.40" fill="#bf3984"/>
<rect x="1974.0" y="666.40" width="50.0" height="152.40" fill="#d6556d"/>
<rect x="1974.0" y="514.30" width="50.0" height="152.40" fill="#ea7457"/>
<rect x="1974.0" y="362.20" width="50.0" height="152.40" fill="#f89540"/>
<rect x="1974.0" y="210.10" width="50.0" height="152.40" fill="#feba2c"/>
<rect x="1974.0" y="58.00" width="50.0" height="152.40" fill="#f7e425"/>
<g fill="#000" stroke="none" shape-rendering="crispEdges">
<rect x="2027" y="1576" width="19" height="6"/>
<rect x="2027" y="1272" width="19" height="6"/>
<rect x="2027" y="968" width="19" height="6"/>
<rect x="2027" y="663" width="19" height="6"/>
<rect x="2027" y="359" width="19" height="6"/>
<rect x="2027" y="55" width="19" height="6"/>
<rect x="1971" y="55" width="56" height="6"/>
<rect x="1971" y="1576" width="56" height="6"/>
<rect x="1971" y="55" width="6" height="1527"/>
<rect x="2021" y="55" width="6" height="1527"/>
</g>
<text x="2066.5" y="1602.8">0.0</text>
<text x="2066.5" y="1298.6">0.2</text>
<text x="2066.5" y="994.4">0.4</text>
<text x="2066.5" y="690.2">0.6</text>
<text x="2066.5" y="386.0">0.8</text>
<text x="2066.5" y="81.8">1.0</text>
<text id="cblabel" transform="translate(2238.4,818.5) rotate(-90)" text-anchor="middle">Energy [kcal/mol]</text>
</g>
</svg>
</body>
</html>
